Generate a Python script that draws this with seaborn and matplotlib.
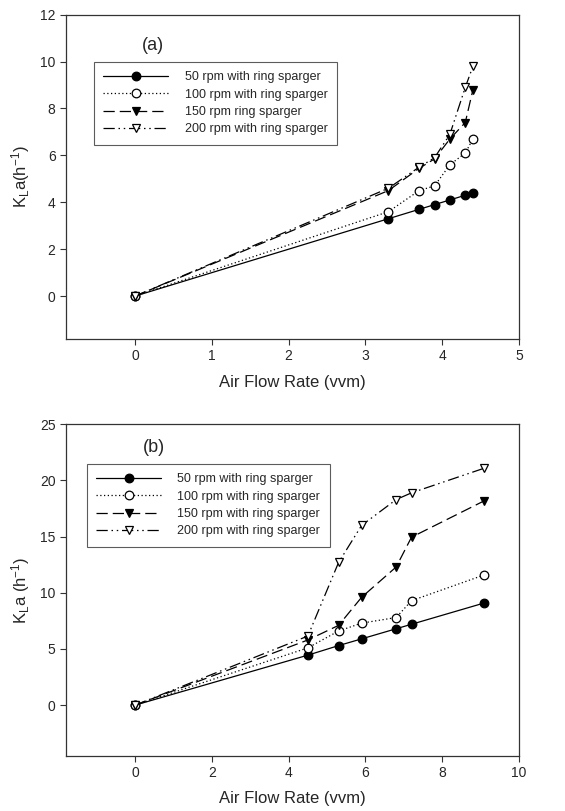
import matplotlib
matplotlib.use("Agg")
import matplotlib.pyplot as plt
import seaborn as sns
import pandas as pd

# ---- data: panel (a) ----
xa_50 = [0, 3.3, 3.7, 3.9, 4.1, 4.3, 4.4]
ya_50 = [0, 3.3, 3.7, 3.9, 4.1, 4.3, 4.4]
xa_100 = [0, 3.3, 3.7, 3.9, 4.1, 4.3, 4.4]
ya_100 = [0, 3.6, 4.5, 4.7, 5.6, 6.1, 6.7]
xa_150 = [0, 3.3, 3.7, 3.9, 4.1, 4.3, 4.4]
ya_150 = [0, 4.5, 5.45, 5.85, 6.7, 7.4, 8.8]
xa_200 = [0, 3.3, 3.7, 3.9, 4.1, 4.3, 4.4]
ya_200 = [0, 4.6, 5.5, 5.9, 6.9, 8.9, 9.8]
labels_a = ["50 rpm with ring sparger", "100 rpm with ring sparger",
            "150 rpm ring sparger", "200 rpm with ring sparger"]

# ---- data: panel (b) ----
xb = [0, 4.5, 5.3, 5.9, 6.8, 7.2, 9.1]
yb_50 = [0, 4.45, 5.3, 5.9, 6.8, 7.2, 9.1]
yb_100 = [0, 5.1, 6.6, 7.3, 7.8, 9.3, 11.6]
yb_150 = [0, 5.8, 7.1, 9.6, 12.3, 14.95, 18.2]
yb_200 = [0, 6.15, 12.7, 16.0, 18.3, 18.9, 21.1]
labels_b = ["50 rpm with ring sparger", "100 rpm with ring sparger",
            "150 rpm with ring sparger", "200 rpm with ring sparger"]

sns.set_style("ticks")
plt.rcParams["font.family"] = ["Liberation Sans", "DejaVu Sans"]
plt.rcParams["mathtext.fontset"] = "custom"
plt.rcParams["mathtext.rm"] = "Liberation Sans"
plt.rcParams["mathtext.it"] = "Liberation Sans"

styles = [
    dict(marker="o", markerfacecolor="black", linestyle="-"),
    dict(marker="o", markerfacecolor="white", linestyle=(0, (1, 2))),
    dict(marker="v", markerfacecolor="black", linestyle=(0, (9, 4))),
    dict(marker="v", markerfacecolor="white", linestyle=(0, (9, 3, 1.2, 3, 1.2, 3))),
]

fig = plt.figure(figsize=(5.65, 8.11), dpi=100)
ax1 = fig.add_axes([0.1168, 0.582, 0.8018, 0.3999])
ax2 = fig.add_axes([0.1168, 0.0682, 0.8018, 0.4086])

series_a = [(xa_50, ya_50), (xa_100, ya_100), (xa_150, ya_150), (xa_200, ya_200)]
series_b = [(xb, yb_50), (xb, yb_100), (xb, yb_150), (xb, yb_200)]


def draw(ax, series, labels):
    for (x, y), lab, st in zip(series, labels, styles):
        df = pd.DataFrame({"x": x, "y": y})
        sns.lineplot(data=df, x="x", y="y", ax=ax, color="black", lw=0.9,
                     marker=st["marker"], markerfacecolor=st["markerfacecolor"],
                     markeredgecolor="black", markeredgewidth=0.9, markersize=6.2,
                     linestyle=st["linestyle"], label=lab, sort=False,
                     estimator=None)


draw(ax1, series_a, labels_a)
draw(ax2, series_b, labels_b)

ax1.set_xlim(-0.9, 5)
ax1.set_ylim(-1.83, 12)
ax1.set_xticks([0, 1, 2, 3, 4, 5])
ax1.set_yticks([0, 2, 4, 6, 8, 10, 12])
ax1.set_xlabel("Air Flow Rate (vvm)", fontsize=12, labelpad=8)
ax1.set_ylabel(r"$\mathregular{K_La(h^{-1})}$", fontsize=12, labelpad=6)
ax1.text(0.167, 0.905, "(a)", transform=ax1.transAxes, fontsize=13,
         ha="left", va="center")

ax2.set_xlim(-1.8, 10)
ax2.set_ylim(-4.5, 25)
ax2.set_xticks([0, 2, 4, 6, 8, 10])
ax2.set_yticks([0, 5, 10, 15, 20, 25])
ax2.set_xlabel("Air Flow Rate (vvm)", fontsize=12, labelpad=8)
ax2.set_ylabel(r"$\mathregular{K_La\ (h^{-1})}$", fontsize=12, labelpad=6)
ax2.text(0.17, 0.93, "(b)", transform=ax2.transAxes, fontsize=13,
         ha="left", va="center")

for ax, anchor in [(ax1, (0.062, 0.854)), (ax2, (0.046, 0.88))]:
    leg = ax.legend(loc="upper left", bbox_to_anchor=anchor, fontsize=9,
                    handlelength=5.2, handletextpad=1.3, labelspacing=0.42,
                    borderpad=0.75, frameon=True, fancybox=False,
                    edgecolor="#333333", borderaxespad=0)
    leg.get_frame().set_linewidth(0.8)
    for sp in ax.spines.values():
        sp.set_visible(True)
        sp.set_linewidth(0.9)
        sp.set_color("#333333")
    ax.tick_params(axis="both", labelsize=10, direction="out", length=4,
                   width=0.8, color="#333333")

fig.savefig("out.png", dpi=100)
